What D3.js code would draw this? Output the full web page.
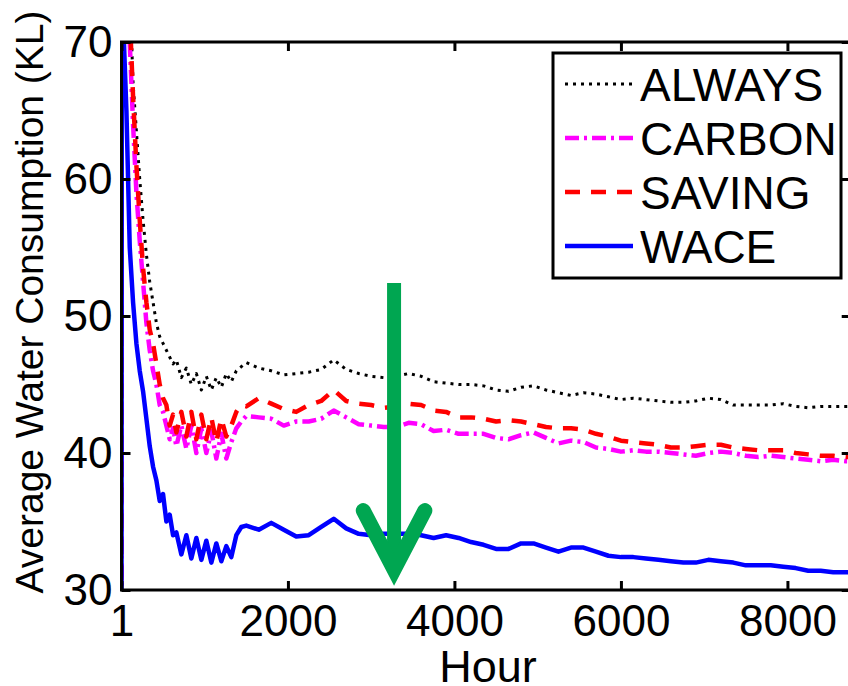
<!DOCTYPE html>
<html lang="en">
<head>
    <meta charset="UTF-8">
    <title>Average Water Consumption</title>
    <script src="https://cdnjs.cloudflare.com/ajax/libs/d3/7.8.5/d3.min.js"></script>
    <style>
        body { margin: 0; background: #fff; }
        svg { display: block; font-family: 'Liberation Sans', Arial, sans-serif; }
        .tick text { font-size: 44px; fill: #000; }
        .tick line { stroke: #000; stroke-width: 3; }
        .domain { display: none; }
    </style>
</head>
<body>
    <div id="chart"></div>
    <script>
        // Hours (dense early on, where the curves jump about)
        const hours = [1, 5, 30, 60, 100, 140, 180, 220, 260, 300, 340, 380, 420, 460, 500, 540, 580, 620,
            660, 720, 780, 840, 900, 960, 1020, 1080, 1140, 1200, 1260, 1320, 1380, 1440,
            1500, 1650, 1800, 1950, 2100, 2250, 2400, 2550, 2700, 2850, 3000, 3150, 3300, 3450, 3600, 3750,
            3900, 4050, 4200, 4350, 4500, 4650, 4800, 4950, 5100, 5250, 5400, 5550, 5700, 5850, 6000, 6150,
            6300, 6450, 6600, 6750, 6900, 7050, 7200, 7350, 7500, 7650, 7800, 7950, 8100, 8250, 8400, 8550,
            8700, 8760];

        const always = [25, 82, 80, 77, 74, 67, 63.5, 60, 57, 54.5, 52.5, 51, 49.5, 48.5, 48, 47.5, 47, 46.5,
            46.8, 45.5, 46.2, 45.0, 45.8, 44.6, 45.6, 44.6, 45.5, 44.8, 45.8, 45.2, 46.0, 46.3,
            46.6, 46.2, 46.0, 45.7, 45.8, 45.9, 46.1, 46.8, 46.1, 45.8, 45.6, 45.5, 45.6, 45.8, 45.6, 45.2,
            45.1, 45.0, 45.0, 44.9, 44.6, 44.5, 44.8, 44.9, 44.6, 44.4, 44.2, 44.4, 44.3, 44.1, 43.9, 44.0,
            43.9, 43.8, 43.7, 43.7, 43.8, 44.0, 43.9, 43.5, 43.5, 43.5, 43.5, 43.6, 43.4, 43.3, 43.4, 43.4,
            43.4, 43.4];

        const carbon = [25, 78, 76, 73, 70, 64, 59, 55.5, 52.5, 49.5, 47.5, 46, 45, 43.5, 43, 42, 41, 41.8,
            40.5, 42.0, 40.3, 42.0, 40.0, 41.8, 40.0, 41.6, 39.6, 41.4, 39.6, 40.8, 41.8, 42.3,
            42.7, 42.6, 42.5, 42.0, 42.3, 42.3, 42.5, 43.1, 42.6, 42.1, 42.0, 41.9, 41.9, 42.2, 42.1, 41.6,
            41.7, 41.4, 41.4, 41.4, 41.1, 41.0, 41.3, 41.5, 41.1, 40.7, 40.9, 40.8, 40.4, 40.3, 40.1, 40.2,
            40.1, 40.1, 40.0, 39.9, 39.8, 40.0, 40.1, 40.0, 39.8, 39.7, 39.8, 39.7, 39.6, 39.5, 39.4, 39.5,
            39.4, 39.4];

        const saving = [25, 80, 78, 75, 72, 66, 61, 57, 53.5, 51, 49, 48, 46.5, 45, 44, 43.5, 42, 42.8,
            41.5, 43.0, 41.2, 43.0, 41.0, 42.8, 41.0, 42.6, 40.8, 42.5, 41.2, 42.0, 43.0, 43.5,
            43.4, 44.0, 43.6, 43.2, 43.0, 43.5, 43.8, 44.6, 43.8, 43.6, 43.5, 43.3, 43.4, 43.6, 43.5, 43.1,
            43.0, 42.6, 42.6, 42.5, 42.3, 42.4, 42.3, 42.1, 41.9, 41.8, 41.8, 41.7, 41.4, 41.2, 40.9, 40.8,
            40.7, 40.6, 40.4, 40.4, 40.5, 40.6, 40.6, 40.4, 40.3, 40.2, 40.2, 40.2, 40.0, 39.9, 39.8, 39.8,
            39.7, 39.7];

        const wace = [25, 76, 70, 65, 55, 51, 48, 46, 44.5, 42.5, 40.5, 39, 38, 36.5, 37, 35, 35.5, 34,
            34.2, 32.6, 34.0, 32.3, 33.8, 32.2, 33.6, 32.0, 33.4, 32.1, 33.2, 32.4, 34.0, 34.6,
            34.7, 34.4, 34.9, 34.4, 33.9, 34.0, 34.6, 35.2, 34.5, 34.1, 34.0, 34.1, 34.1, 34.1, 34.0, 33.8,
            34.0, 33.8, 33.5, 33.3, 33.0, 33.0, 33.4, 33.4, 33.1, 32.8, 33.1, 33.1, 32.8, 32.5, 32.4, 32.4,
            32.3, 32.2, 32.1, 32.0, 32.0, 32.2, 32.1, 32.0, 31.8, 31.8, 31.8, 31.7, 31.6, 31.4, 31.4, 31.3,
            31.3, 31.3];

        const seriesNames = ["ALWAYS", "CARBON", "SAVING", "WACE"];
        const xTicks = [1, 2000, 4000, 6000, 8000];
        const yTicks = [30, 40, 50, 60, 70];

        // green annotation arrow, in data units (hour, KL)
        const arrowHour = 3275, arrowTop = 52.4, arrowTip = 31.5, arrowArmHour = 370, arrowArmDrop = 4.3;

        const series = [
            { name: seriesNames[0], values: always, color: "#000000", width: 3, dash: "3,5" },
            { name: seriesNames[1], values: carbon, color: "#ff00ff", width: 4.5, dash: "14,5,3,5" },
            { name: seriesNames[2], values: saving, color: "#ff0000", width: 4.5, dash: "15,11" },
            { name: seriesNames[3], values: wace, color: "#0000ff", width: 4.5, dash: null }
        ];

        const W = 848, H = 686;
        const plot = { left: 121.5, right: 850.7, top: 42, bottom: 590 };

        const svg = d3.select("#chart").append("svg")
            .attr("width", W)
            .attr("height", H);

        const x = d3.scaleLinear().domain([1, 8760]).range([plot.left, plot.right]);
        const y = d3.scaleLinear().domain([30, 70]).range([plot.bottom, plot.top]);

        svg.append("clipPath").attr("id", "clip")
            .append("rect")
            .attr("x", plot.left).attr("y", plot.top)
            .attr("width", plot.right - plot.left)
            .attr("height", plot.bottom - plot.top);

        // Lines
        const line = d3.line()
            .x((d, i) => x(hours[i]))
            .y(d => y(d));

        const lines = svg.append("g").attr("clip-path", "url(#clip)");
        series.forEach(s => {
            lines.append("path")
                .datum(s.values)
                .attr("d", line)
                .attr("fill", "none")
                .attr("stroke", s.color)
                .attr("stroke-width", s.width)
                .attr("stroke-dasharray", s.dash)
                .attr("stroke-linejoin", "round");
        });

        // Axes (ticks point inward, box on all sides)
        const tick = 9;
        svg.append("g")
            .attr("transform", `translate(0,${plot.bottom})`)
            .call(d3.axisBottom(x).tickValues(xTicks).tickFormat(d => d).tickSizeInner(-tick).tickSizeOuter(0).tickPadding(15));
        svg.append("g")
            .attr("transform", `translate(0,${plot.top})`)
            .call(d3.axisTop(x).tickValues(xTicks).tickFormat("").tickSizeInner(-tick).tickSizeOuter(0));
        svg.append("g")
            .attr("transform", `translate(${plot.left},0)`)
            .call(d3.axisLeft(y).tickValues(yTicks).tickSizeInner(-tick).tickSizeOuter(0).tickPadding(9));
        svg.append("g")
            .attr("transform", `translate(${plot.right},0)`)
            .call(d3.axisRight(y).tickValues(yTicks).tickFormat("").tickSizeInner(-tick).tickSizeOuter(0));

        svg.append("rect")
            .attr("x", plot.left).attr("y", plot.top)
            .attr("width", plot.right - plot.left)
            .attr("height", plot.bottom - plot.top)
            .attr("fill", "none")
            .attr("stroke", "#000")
            .attr("stroke-width", 3);

        // Axis titles
        svg.append("text")
            .attr("x", 488)
            .attr("y", 682)
            .attr("text-anchor", "middle")
            .style("font-size", "45px")
            .text("Hour");

        svg.append("text")
            .attr("transform", "translate(43,302) rotate(-90)")
            .attr("text-anchor", "middle")
            .style("font-size", "39px")
            .text("Average Water Consumption (KL)");

        // Legend
        const legend = svg.append("g");
        legend.append("rect")
            .attr("x", 553).attr("y", 53)
            .attr("width", 288).attr("height", 225)
            .attr("fill", "#fff")
            .attr("stroke", "#000")
            .attr("stroke-width", 3);
        const rowY = d3.scalePoint().domain(seriesNames).range([84, 246]);
        series.forEach(s => {
            const ry = rowY(s.name);
            legend.append("line")
                .attr("x1", 565).attr("x2", 633)
                .attr("y1", ry).attr("y2", ry)
                .attr("stroke", s.color)
                .attr("stroke-width", s.width)
                .attr("stroke-dasharray", s.dash);
            legend.append("text")
                .attr("x", 640)
                .attr("y", ry + 17)
                .style("font-size", "46px")
                .text(s.name);
        });

        // Green arrow
        const green = "#00a651";
        const ax = x(arrowHour), tipY = y(arrowTip);
        svg.append("line")
            .attr("x1", ax).attr("x2", ax)
            .attr("y1", y(arrowTop)).attr("y2", tipY)
            .attr("stroke", green)
            .attr("stroke-width", 14);
        svg.append("path")
            .attr("d", `M${x(arrowHour - arrowArmHour)},${y(arrowTip + arrowArmDrop)}L${ax},${tipY}L${x(arrowHour + arrowArmHour)},${y(arrowTip + arrowArmDrop)}`)
            .attr("fill", "none")
            .attr("stroke", green)
            .attr("stroke-width", 15)
            .attr("stroke-linecap", "round")
            .attr("stroke-linejoin", "miter")
            .attr("stroke-miterlimit", 10);
    </script>
</body>
</html>
